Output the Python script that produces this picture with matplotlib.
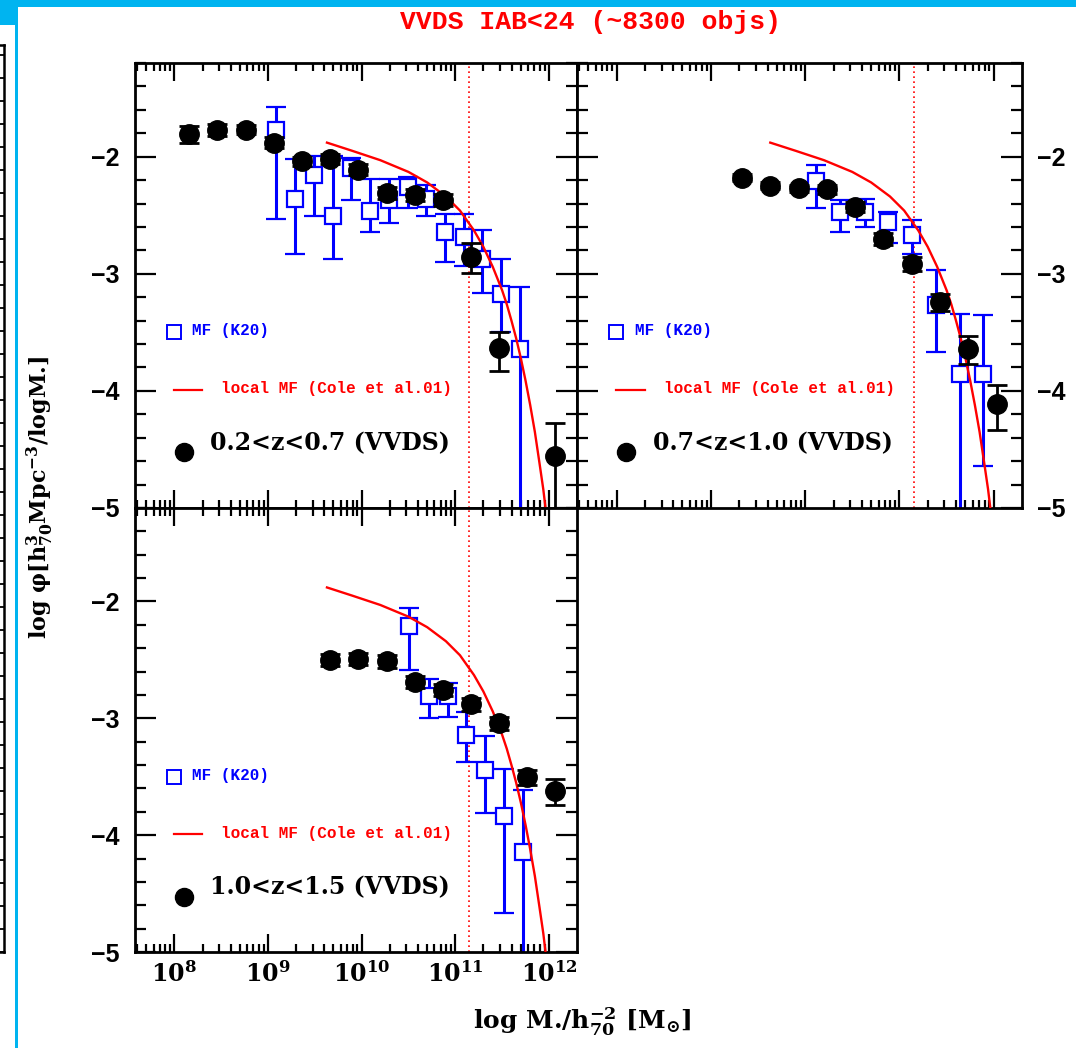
import numpy as np
import matplotlib
matplotlib.use('Agg')
import matplotlib.pyplot as plt
from matplotlib import ticker
from matplotlib.patches import Rectangle

W, H = 1076, 1048

plt.rcParams['font.family'] = ['Liberation Sans', 'DejaVu Sans']
plt.rcParams['font.weight'] = 'bold'
plt.rcParams['mathtext.fontset'] = 'custom'
plt.rcParams['mathtext.rm'] = 'DejaVu Serif:bold'
plt.rcParams['mathtext.it'] = 'DejaVu Serif:italic:bold'
plt.rcParams['mathtext.bf'] = 'DejaVu Serif:bold'
plt.rcParams['mathtext.default'] = 'rm'

# ---------------------------------------------------------------
# data (log M, log phi)
# ---------------------------------------------------------------
mass_limit = 11.15   # dotted completeness line

# local MF (Cole et al. 2001), same curve in all panels
cole_x = np.array([9.63, 9.90, 10.20, 10.50, 10.70, 10.90, 11.05, 11.20, 11.30, 11.40,
                   11.50, 11.55, 11.60, 11.65, 11.70, 11.75, 11.80, 11.85, 11.90, 11.94, 11.97])
cole_y = np.array([-1.88, -1.95, -2.03, -2.13, -2.22, -2.34, -2.46, -2.63, -2.77, -2.94,
                   -3.14, -3.26, -3.40, -3.55, -3.72, -3.91, -4.12, -4.35, -4.62, -4.84, -5.04])

# panel 1 : 0.2<z<0.7
p1_vx = np.array([8.16, 8.46, 8.76, 9.06, 9.36, 9.66, 9.96, 10.27, 10.57, 10.87, 11.17, 11.47, 12.07])
p1_vy = np.array([-1.81, -1.77, -1.77, -1.88, -2.04, -2.02, -2.11, -2.31, -2.33, -2.37, -2.86, -3.63, -4.56])
p1_vlo = np.array([0.07, 0.05, 0.04, 0.05, 0.04, 0.04, 0.05, 0.05, 0.05, 0.05, 0.13, 0.20, 0.50])
p1_vhi = np.array([0.07, 0.05, 0.04, 0.05, 0.04, 0.04, 0.05, 0.05, 0.05, 0.05, 0.12, 0.13, 0.29])
p1_kx = np.array([9.09, 9.29, 9.49, 9.69, 9.89, 10.09, 10.29, 10.49, 10.69, 10.89, 11.09, 11.29, 11.49, 11.69])
p1_ky = np.array([-1.77, -2.36, -2.16, -2.51, -2.10, -2.46, -2.37, -2.26, -2.36, -2.64, -2.69, -2.87, -3.17, -3.64])
p1_kup = np.array([-1.58, -2.02, -1.99, -1.99, -2.01, -2.19, -2.19, -2.17, -2.24, -2.49, -2.49, -2.63, -2.87, -3.11])
p1_kdn = np.array([-2.53, -2.83, -2.51, -2.87, -2.37, -2.64, -2.57, -2.44, -2.51, -2.90, -2.93, -3.16, -3.50, -5.50])

# panel 2 : 0.7<z<1.0
p2_vx = np.array([9.33, 9.63, 9.93, 10.23, 10.53, 10.83, 11.13, 11.43, 11.73, 12.04])
p2_vy = np.array([-2.18, -2.25, -2.27, -2.28, -2.43, -2.70, -2.92, -3.24, -3.64, -4.11])
p2_vlo = np.array([0.03, 0.03, 0.03, 0.04, 0.04, 0.05, 0.06, 0.08, 0.13, 0.22])
p2_vhi = np.array([0.03, 0.03, 0.03, 0.04, 0.04, 0.05, 0.06, 0.07, 0.11, 0.16])
p2_kx = np.array([10.12, 10.37, 10.63, 10.88, 11.13, 11.39, 11.64, 11.89])
p2_ky = np.array([-2.21, -2.47, -2.47, -2.56, -2.67, -3.27, -3.86, -3.86])
p2_kup = np.array([-2.07, -2.37, -2.36, -2.47, -2.54, -2.97, -3.34, -3.35])
p2_kdn = np.array([-2.44, -2.64, -2.60, -2.74, -2.83, -3.67, -5.50, -4.64])

# panel 3 : 1.0<z<1.5
p3_vx = np.array([9.66, 9.96, 10.27, 10.57, 10.87, 11.17, 11.47, 11.77, 12.07])
p3_vy = np.array([-2.50, -2.49, -2.51, -2.69, -2.76, -2.88, -3.04, -3.50, -3.62])
p3_vlo = np.array([0.05, 0.05, 0.06, 0.05, 0.05, 0.06, 0.06, 0.07, 0.12])
p3_vhi = np.array([0.05, 0.05, 0.05, 0.05, 0.05, 0.05, 0.05, 0.06, 0.10])
p3_kx = np.array([10.51, 10.72, 10.92, 11.12, 11.32, 11.52, 11.72])
p3_ky = np.array([-2.21, -2.81, -2.81, -3.14, -3.44, -3.84, -4.14])
p3_kup = np.array([-2.06, -2.66, -2.70, -2.95, -3.15, -3.43, -3.61])
p3_kdn = np.array([-2.59, -3.00, -2.99, -3.37, -3.81, -4.67, -5.50])

z_labels = ['0.2<z<0.7 (VVDS)', '0.7<z<1.0 (VVDS)', '1.0<z<1.5 (VVDS)']
ytick_vals = [-5, -4, -3, -2]


def frac(x0, y0, x1, y1):
    # pixel box (top-left origin) -> figure fraction rect
    return [x0 / W, 1 - y1 / H, (x1 - x0) / W, (y1 - y0) / H]


fig = plt.figure(figsize=(W / 100, H / 100), dpi=100)
fig.patch.set_facecolor('white')

# slide decoration (cyan frame)
cyan = '#00b4f0'
for x0, y0, x1, y1 in [(0, 0, W, 7), (0, 0, 18, 25), (15, 0, 18, H)]:
    r = frac(x0, y0, x1, y1)
    fig.add_artist(Rectangle((r[0], r[1]), r[2], r[3], transform=fig.transFigure,
                             facecolor=cyan, edgecolor='none', zorder=0))

# piece of the previous figure visible on the left edge
axl = fig.add_axes(frac(-300, 45, 4, 952))
axl.set_xlim(0, 1)
axl.set_ylim(0, 907 / 23)
axl.yaxis.set_major_locator(ticker.MultipleLocator(1))
axl.set_xticks([])
axl.tick_params(axis='y', direction='in', left=False, right=True, labelleft=False,
                length=5, width=1.3)
for s in axl.spines.values():
    s.set_linewidth(1.8)


def panel(rect, vx, vy, vlo, vhi, kx, ky, kup, kdn, zlab, xlabels, side):
    ax = fig.add_axes(rect)
    ax.set_xscale('log')
    ax.set_xlim(10 ** 7.58, 10 ** 12.3)
    ax.set_ylim(-5, -1.2)

    ax.axvline(10 ** mass_limit, color='red', ls=(0, (1, 2)), lw=1.2, zorder=1)
    ax.errorbar(10 ** kx, ky, yerr=[ky - kdn, kup - ky], fmt='s', mfc='white', mec='blue',
                ecolor='blue', ms=11, mew=1.6, elinewidth=2.2, capsize=7, capthick=2.2, zorder=2)
    ax.plot(10 ** cole_x, cole_y, color='red', lw=1.7, zorder=3)
    ax.errorbar(10 ** vx, vy, yerr=[vlo, vhi], fmt='o', color='black', ms=14,
                elinewidth=2, capsize=7, capthick=2, zorder=4)

    # legend keys in PGPLOT style
    ax.plot([0.088], [0.395], 's', mfc='white', mec='blue', ms=10, mew=1.4,
            transform=ax.transAxes)
    ax.text(0.13, 0.398, 'MF (K20)', color='blue', fontsize=11.5, fontfamily='Liberation Mono',
            fontweight='bold', va='center', transform=ax.transAxes)
    ax.plot([0.088, 0.152], [0.265, 0.265], color='red', lw=1.6, transform=ax.transAxes)
    ax.text(0.195, 0.268, 'local MF (Cole et al.01)', color='red', fontsize=11.5,
            fontfamily='Liberation Mono', fontweight='bold', va='center', transform=ax.transAxes)
    ax.plot([0.11], [0.125], 'o', color='black', ms=13, transform=ax.transAxes)
    ax.text(0.17, 0.146, zlab, color='black', fontsize=17, fontfamily='DejaVu Serif',
            fontweight='bold', va='center', transform=ax.transAxes)

    ax.set_yticks(ytick_vals)
    ax.yaxis.set_minor_locator(ticker.MultipleLocator(0.2))
    ax.xaxis.set_major_locator(ticker.LogLocator(base=10))
    ax.xaxis.set_minor_locator(ticker.LogLocator(base=10, subs=np.arange(2, 10)))
    ax.xaxis.set_minor_formatter(ticker.NullFormatter())
    ax.xaxis.set_major_formatter(ticker.FuncFormatter(
        lambda v, p: r'$10^{%d}$' % int(round(np.log10(v)))))

    ax.tick_params(which='both', direction='in', top=True, right=True, width=1.6)
    ax.tick_params(axis='y', which='major', length=15)
    ax.tick_params(axis='y', which='minor', length=8)
    ax.tick_params(axis='x', which='major', length=13)
    ax.tick_params(axis='x', which='minor', length=6)
    ax.tick_params(axis='y', labelsize=18, pad=11,
                   labelleft=(side == 'left'), labelright=(side == 'right'))
    ax.tick_params(axis='x', labelsize=17, pad=7, labelbottom=xlabels)
    for s in ax.spines.values():
        s.set_linewidth(2.0)
    return ax


panel(frac(135, 63, 577, 508), p1_vx, p1_vy, p1_vlo, p1_vhi,
      p1_kx, p1_ky, p1_kup, p1_kdn, z_labels[0], False, 'left')
panel(frac(577, 63, 1022, 508), p2_vx, p2_vy, p2_vlo, p2_vhi,
      p2_kx, p2_ky, p2_kup, p2_kdn, z_labels[1], False, 'right')
panel(frac(135, 508, 577, 952), p3_vx, p3_vy, p3_vlo, p3_vhi,
      p3_kx, p3_ky, p3_kup, p3_kdn, z_labels[2], True, 'left')

fig.text(590 / W, 1 - 22 / H, 'VVDS IAB<24 (~8300 objs)', color='red', fontsize=19,
         fontfamily='Liberation Mono', fontweight='bold', ha='center', va='center')
fig.text(40 / W, 1 - 497 / H, 'log φ[h$^{3}_{70}$Mpc$^{-3}$/logM.]', rotation=90,
         fontsize=16, fontfamily='DejaVu Serif', fontweight='bold', ha='center', va='center')
fig.text(582 / W, 1 - 1022 / H, 'log M./h$^{-2}_{70}$ [M$_{\\odot}$]',
         fontsize=18, fontfamily='DejaVu Serif', fontweight='bold', ha='center', va='center')

fig.savefig('out.png', dpi=100)
